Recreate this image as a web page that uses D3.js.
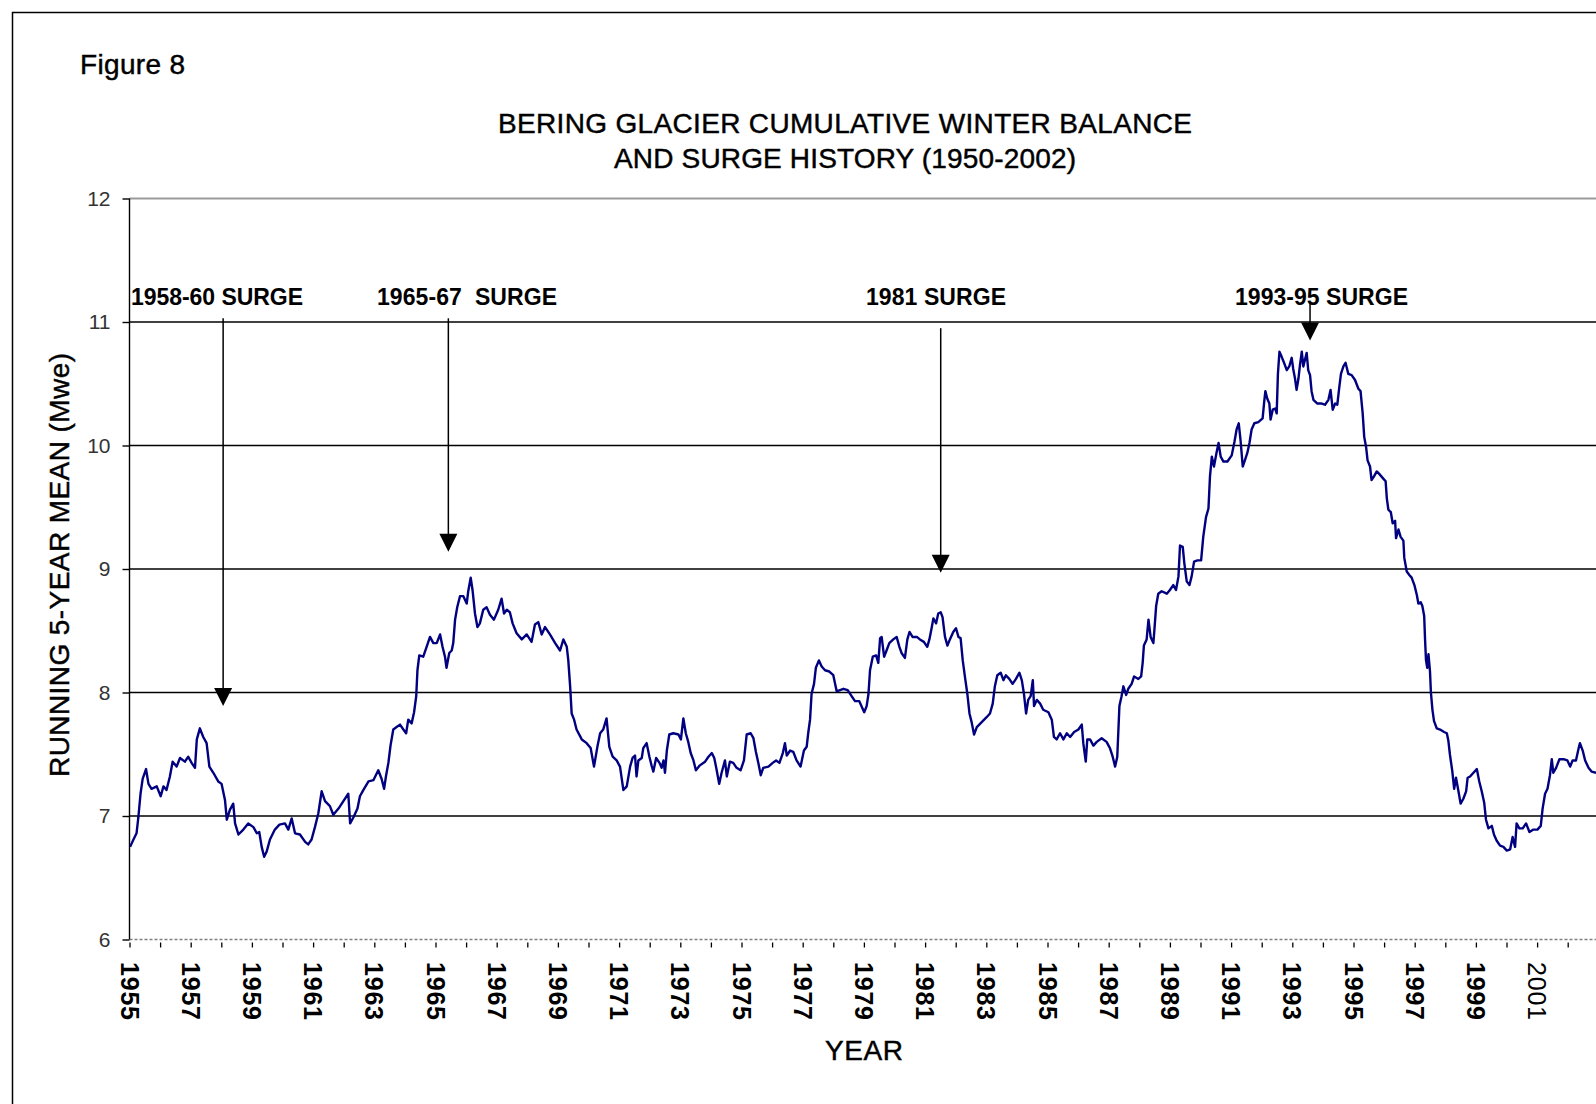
<!DOCTYPE html>
<html>
<head>
<meta charset="utf-8">
<script src="https://cdn.jsdelivr.net/npm/d3@7"></script>
<style>
  html, body { margin: 0; padding: 0; background: #fff; overflow: hidden; }
  svg { display: block; }
  text { font-family: "Liberation Sans", Arial, sans-serif; }
  .heavy { stroke: #000; stroke-width: 0.45px; }
</style>
</head>
<body>
<svg id="chart" width="1596" height="1104"></svg>
<script>
// Running 5-year mean of cumulative winter balance, [decimal year, Mwe]
const runningMean = [
  [1955.02,6.75],[1955.13,6.81],[1955.23,6.86],[1955.29,6.99],[1955.36,7.18],[1955.43,7.30],
  [1955.54,7.38],[1955.62,7.26],[1955.72,7.22],[1955.89,7.24],[1956.02,7.16],[1956.11,7.24],
  [1956.21,7.21],[1956.32,7.32],[1956.41,7.44],[1956.54,7.40],[1956.65,7.47],[1956.81,7.44],
  [1956.92,7.48],[1957.03,7.43],[1957.14,7.39],[1957.20,7.62],[1957.30,7.71],[1957.41,7.64],
  [1957.52,7.59],[1957.61,7.40],[1957.74,7.35],[1957.90,7.28],[1958.01,7.26],[1958.12,7.13],
  [1958.18,6.97],[1958.28,7.05],[1958.39,7.10],[1958.45,6.94],[1958.56,6.85],[1958.72,6.89],
  [1958.88,6.94],[1959.05,6.91],[1959.16,6.86],[1959.24,6.87],[1959.32,6.75],[1959.40,6.67],
  [1959.48,6.71],[1959.59,6.81],[1959.75,6.89],[1959.90,6.93],[1960.08,6.94],[1960.19,6.89],
  [1960.30,6.98],[1960.41,6.86],[1960.57,6.85],[1960.74,6.79],[1960.84,6.77],[1960.95,6.81],
  [1961.06,6.91],[1961.17,7.02],[1961.28,7.20],[1961.39,7.12],[1961.55,7.08],[1961.66,7.01],
  [1961.83,7.06],[1961.99,7.12],[1962.15,7.18],[1962.21,6.94],[1962.32,6.99],[1962.45,7.06],
  [1962.53,7.16],[1962.64,7.21],[1962.81,7.28],[1962.97,7.29],[1963.13,7.37],[1963.24,7.30],
  [1963.32,7.22],[1963.38,7.32],[1963.46,7.43],[1963.53,7.57],[1963.62,7.70],[1963.73,7.72],
  [1963.84,7.74],[1963.95,7.70],[1964.04,7.67],[1964.11,7.78],[1964.22,7.75],[1964.30,7.84],
  [1964.37,7.97],[1964.41,8.18],[1964.47,8.30],[1964.60,8.29],[1964.71,8.37],[1964.82,8.45],
  [1964.93,8.40],[1965.04,8.40],[1965.15,8.47],[1965.23,8.37],[1965.31,8.29],[1965.36,8.20],
  [1965.45,8.32],[1965.53,8.34],[1965.58,8.40],[1965.64,8.59],[1965.71,8.69],[1965.80,8.78],
  [1965.91,8.78],[1966.02,8.72],[1966.07,8.82],[1966.15,8.93],[1966.21,8.83],[1966.29,8.64],
  [1966.37,8.53],[1966.45,8.56],[1966.56,8.67],[1966.67,8.69],[1966.78,8.63],[1966.91,8.59],
  [1967.05,8.67],[1967.16,8.76],[1967.24,8.64],[1967.33,8.67],[1967.43,8.65],[1967.52,8.56],
  [1967.65,8.48],[1967.82,8.43],[1967.98,8.47],[1968.14,8.41],[1968.25,8.55],[1968.36,8.57],
  [1968.47,8.47],[1968.58,8.53],[1968.74,8.47],[1968.91,8.40],[1969.07,8.34],[1969.18,8.43],
  [1969.29,8.37],[1969.34,8.26],[1969.40,8.05],[1969.45,7.83],[1969.53,7.78],[1969.61,7.70],
  [1969.78,7.62],[1969.94,7.59],[1970.07,7.55],[1970.18,7.40],[1970.29,7.56],[1970.38,7.67],
  [1970.48,7.70],[1970.59,7.79],[1970.68,7.56],[1970.79,7.48],[1970.92,7.45],[1971.03,7.40],
  [1971.14,7.21],[1971.25,7.24],[1971.36,7.40],[1971.44,7.47],[1971.52,7.49],[1971.57,7.32],
  [1971.63,7.45],[1971.74,7.47],[1971.79,7.55],[1971.90,7.59],[1971.99,7.48],[1972.06,7.41],
  [1972.12,7.36],[1972.21,7.47],[1972.32,7.43],[1972.39,7.39],[1972.45,7.45],[1972.50,7.35],
  [1972.56,7.53],[1972.64,7.66],[1972.77,7.67],[1972.94,7.66],[1973.02,7.62],[1973.10,7.79],
  [1973.18,7.67],[1973.26,7.60],[1973.34,7.51],[1973.43,7.45],[1973.51,7.37],[1973.64,7.41],
  [1973.81,7.44],[1973.92,7.48],[1974.03,7.51],[1974.11,7.47],[1974.19,7.37],[1974.27,7.26],
  [1974.35,7.35],[1974.46,7.45],[1974.52,7.32],[1974.62,7.44],[1974.73,7.43],[1974.84,7.39],
  [1974.97,7.37],[1975.08,7.45],[1975.17,7.66],[1975.30,7.67],[1975.39,7.63],[1975.47,7.52],
  [1975.55,7.43],[1975.63,7.33],[1975.71,7.39],[1975.88,7.40],[1976.02,7.43],[1976.13,7.45],
  [1976.24,7.43],[1976.35,7.51],[1976.42,7.59],[1976.48,7.49],[1976.59,7.53],[1976.69,7.52],
  [1976.80,7.45],[1976.93,7.40],[1977.04,7.53],[1977.13,7.56],[1977.18,7.67],[1977.24,7.78],
  [1977.29,7.99],[1977.37,8.07],[1977.43,8.20],[1977.53,8.26],[1977.62,8.21],[1977.73,8.18],
  [1977.87,8.17],[1978.00,8.14],[1978.11,8.01],[1978.22,8.02],[1978.33,8.03],[1978.47,8.02],
  [1978.60,7.97],[1978.71,7.93],[1978.85,7.93],[1979.01,7.84],[1979.09,7.89],[1979.15,7.99],
  [1979.20,8.18],[1979.29,8.29],[1979.40,8.30],[1979.47,8.24],[1979.53,8.44],[1979.58,8.45],
  [1979.66,8.29],[1979.74,8.34],[1979.83,8.40],[1979.96,8.43],[1980.07,8.45],[1980.16,8.37],
  [1980.23,8.32],[1980.34,8.28],[1980.42,8.43],[1980.49,8.49],[1980.59,8.45],[1980.73,8.45],
  [1980.83,8.43],[1980.96,8.41],[1981.07,8.37],[1981.14,8.43],[1981.22,8.53],[1981.27,8.60],
  [1981.36,8.56],[1981.43,8.64],[1981.51,8.65],[1981.57,8.61],[1981.65,8.45],[1981.73,8.38],
  [1981.81,8.43],[1981.92,8.49],[1982.01,8.52],[1982.09,8.45],[1982.16,8.44],[1982.23,8.26],
  [1982.30,8.13],[1982.38,7.99],[1982.45,7.83],[1982.52,7.76],[1982.60,7.66],[1982.69,7.72],
  [1982.85,7.76],[1983.01,7.80],[1983.12,7.83],[1983.21,7.91],[1983.28,8.05],[1983.36,8.14],
  [1983.47,8.16],[1983.56,8.10],[1983.64,8.14],[1983.75,8.11],[1983.86,8.07],[1983.97,8.11],
  [1984.08,8.16],[1984.16,8.10],[1984.23,7.99],[1984.30,7.83],[1984.37,7.94],[1984.45,7.97],
  [1984.52,8.10],[1984.56,7.89],[1984.65,7.94],[1984.76,7.91],[1984.86,7.86],[1985.03,7.84],
  [1985.14,7.78],[1985.21,7.64],[1985.30,7.62],[1985.41,7.67],[1985.52,7.62],[1985.63,7.67],
  [1985.74,7.64],[1985.87,7.68],[1986.01,7.70],[1986.12,7.74],[1986.17,7.59],[1986.25,7.44],
  [1986.30,7.62],[1986.39,7.62],[1986.50,7.57],[1986.61,7.60],[1986.77,7.63],[1986.93,7.60],
  [1987.04,7.55],[1987.13,7.48],[1987.21,7.40],[1987.28,7.48],[1987.35,7.89],[1987.42,7.97],
  [1987.48,8.05],[1987.57,7.98],[1987.64,8.03],[1987.75,8.07],[1987.83,8.13],[1987.97,8.11],
  [1988.06,8.13],[1988.11,8.24],[1988.15,8.38],[1988.24,8.43],[1988.30,8.59],[1988.37,8.45],
  [1988.46,8.40],[1988.50,8.53],[1988.55,8.70],[1988.62,8.80],[1988.73,8.82],[1988.90,8.80],
  [1989.00,8.83],[1989.11,8.87],[1989.20,8.83],[1989.28,8.94],[1989.33,9.19],[1989.42,9.18],
  [1989.47,9.05],[1989.55,8.90],[1989.64,8.87],[1989.71,8.94],[1989.79,9.06],[1989.90,9.07],
  [1990.02,9.07],[1990.09,9.26],[1990.18,9.42],[1990.26,9.49],[1990.31,9.75],[1990.37,9.91],
  [1990.44,9.83],[1990.53,9.95],[1990.59,10.02],[1990.66,9.91],[1990.75,9.87],[1990.88,9.87],
  [1991.02,9.92],[1991.11,10.03],[1991.18,10.13],[1991.25,10.18],[1991.31,10.04],[1991.38,9.83],
  [1991.45,9.88],[1991.53,9.94],[1991.60,10.02],[1991.67,10.13],[1991.76,10.18],[1991.89,10.19],
  [1992.03,10.22],[1992.08,10.35],[1992.12,10.44],[1992.18,10.38],[1992.25,10.34],[1992.29,10.21],
  [1992.36,10.29],[1992.44,10.30],[1992.49,10.26],[1992.53,10.58],[1992.58,10.76],[1992.65,10.72],
  [1992.73,10.67],[1992.82,10.61],[1992.90,10.64],[1992.98,10.71],[1993.03,10.62],[1993.09,10.54],
  [1993.14,10.45],[1993.20,10.54],[1993.25,10.65],[1993.31,10.76],[1993.36,10.64],[1993.41,10.69],
  [1993.47,10.75],[1993.52,10.61],[1993.58,10.57],[1993.63,10.44],[1993.69,10.37],[1993.82,10.34],
  [1993.96,10.34],[1994.07,10.33],[1994.18,10.37],[1994.25,10.45],[1994.32,10.29],[1994.40,10.34],
  [1994.47,10.33],[1994.54,10.48],[1994.59,10.58],[1994.67,10.64],[1994.74,10.67],[1994.83,10.58],
  [1994.94,10.57],[1995.05,10.53],[1995.16,10.46],[1995.23,10.44],[1995.30,10.26],[1995.35,10.07],
  [1995.41,9.99],[1995.46,9.88],[1995.54,9.83],[1995.59,9.72],[1995.67,9.75],[1995.76,9.79],
  [1995.84,9.77],[1995.98,9.73],[1996.05,9.71],[1996.09,9.57],[1996.14,9.48],[1996.22,9.46],
  [1996.28,9.37],[1996.36,9.39],[1996.39,9.25],[1996.47,9.32],[1996.54,9.26],[1996.63,9.23],
  [1996.66,9.09],[1996.74,8.98],[1996.83,8.95],[1996.90,8.93],[1996.99,8.87],[1997.07,8.79],
  [1997.12,8.72],[1997.20,8.73],[1997.25,8.70],[1997.31,8.62],[1997.34,8.42],[1997.37,8.26],
  [1997.41,8.20],[1997.45,8.31],[1997.50,8.17],[1997.53,8.00],[1997.58,7.86],[1997.63,7.77],
  [1997.72,7.71],[1997.83,7.70],[1997.96,7.68],[1998.05,7.67],[1998.10,7.61],[1998.15,7.50],
  [1998.23,7.36],[1998.29,7.22],[1998.35,7.31],[1998.43,7.20],[1998.50,7.10],[1998.59,7.14],
  [1998.68,7.20],[1998.73,7.31],[1998.81,7.32],[1998.92,7.35],[1999.03,7.38],[1999.11,7.28],
  [1999.19,7.20],[1999.27,7.11],[1999.33,6.97],[1999.41,6.90],[1999.52,6.92],[1999.59,6.85],
  [1999.68,6.80],[1999.79,6.76],[1999.90,6.75],[2000.01,6.72],[2000.12,6.73],[2000.20,6.83],
  [2000.28,6.75],[2000.33,6.94],[2000.42,6.90],[2000.53,6.90],[2000.64,6.94],[2000.75,6.87],
  [2000.88,6.89],[2001.01,6.89],[2001.12,6.92],[2001.18,7.06],[2001.26,7.18],[2001.34,7.22],
  [2001.42,7.33],[2001.48,7.46],[2001.53,7.35],[2001.62,7.39],[2001.73,7.46],[2001.86,7.46],
  [2001.99,7.45],[2002.08,7.40],[2002.16,7.45],[2002.27,7.45],[2002.35,7.54],[2002.40,7.59],
  [2002.49,7.53],[2002.57,7.45],[2002.68,7.39],[2002.78,7.36],[2002.93,7.35]
];

const valueTicks = [6, 7, 8, 9, 10, 11, 12];
const yearTicks = d3.range(1955, 2003);
const labelledYears = yearTicks.filter(yr => yr % 2 === 1);

const surgeNames = ["1958-60 SURGE", "1965-67  SURGE", "1981 SURGE", "1993-95 SURGE"];
const surgeYears = [1958.06, 1965.42, 1981.51, 1993.58];
const surgeArrowFrom = [11.03, 11.03, 10.95, 11.16];
const surgeArrowTo = [7.89, 9.14, 8.97, 10.85];

const titleLines = ["BERING GLACIER CUMULATIVE WINTER BALANCE", "AND SURGE HISTORY (1950-2002)"];

// ---- layout ----
const chartW = 1596, chartH = 1104;
const plotLeft = 129.5, plotTop = 198.5, plotBottom = 939.5;
const pxPerYear = 30.6;

const x = d3.scaleLinear().domain([1955, 2003]).range([plotLeft, plotLeft + pxPerYear * 48]);
const y = d3.scaleLinear().domain([6, 12]).range([plotBottom, plotTop]);

const svg = d3.select("#chart");
const font = '"Liberation Sans", Arial, sans-serif';

// outer frame of the figure
svg.append("rect")
  .attr("x", 12.5).attr("y", 12.5)
  .attr("width", 1700).attr("height", 1200)
  .attr("fill", "none").attr("stroke", "#000").attr("stroke-width", 1.5);

// caption and title
svg.append("text")
  .attr("class", "heavy")
  .attr("x", 80).attr("y", 74)
  .attr("font-size", 28).attr("textLength", 105).attr("lengthAdjust", "spacing")
  .text("Figure 8");

const titleLengths = [694, 462];
svg.selectAll("text.title").data(titleLines).join("text")
  .attr("class", "title heavy")
  .attr("x", 845).attr("y", (d, i) => 133 + i * 35)
  .attr("text-anchor", "middle")
  .attr("font-size", 28)
  .attr("textLength", (d, i) => titleLengths[i]).attr("lengthAdjust", "spacing")
  .text(d => d);

// horizontal gridlines
const grid = svg.append("g");
grid.selectAll("line").data(valueTicks.filter(v => v > 6 && v < 12)).join("line")
  .attr("x1", plotLeft).attr("x2", chartW + 10)
  .attr("y1", d => y(d)).attr("y2", d => y(d))
  .attr("stroke", "#000").attr("stroke-width", 1.6);
grid.append("line")
  .attr("x1", plotLeft).attr("x2", chartW + 10)
  .attr("y1", y(12)).attr("y2", y(12))
  .attr("stroke", "#9a9a9a").attr("stroke-width", 2);
grid.append("line")
  .attr("x1", plotLeft).attr("x2", chartW + 10)
  .attr("y1", y(6)).attr("y2", y(6))
  .attr("stroke", "#808080").attr("stroke-width", 1.6)
  .attr("stroke-dasharray", "3,2");

// value axis
const yAxis = svg.append("g")
  .attr("transform", `translate(${plotLeft},0)`)
  .call(d3.axisLeft(y).tickValues(valueTicks).tickSize(7).tickPadding(12).tickFormat(d3.format("d")));
yAxis.select(".domain").remove();
yAxis.selectAll(".tick line").attr("stroke", "#000").attr("stroke-width", 1.4);
yAxis.selectAll(".tick text")
  .attr("font-family", font).attr("font-size", 21).attr("fill", "#333");
svg.append("line")
  .attr("x1", plotLeft).attr("x2", plotLeft).attr("y1", plotTop).attr("y2", plotBottom)
  .attr("stroke", "#000").attr("stroke-width", 1.4);

svg.append("text")
  .attr("class", "heavy")
  .attr("transform", `translate(69,565) rotate(-90)`)
  .attr("text-anchor", "middle")
  .attr("font-size", 28).attr("textLength", 424).attr("lengthAdjust", "spacing")
  .text("RUNNING 5-YEAR MEAN (Mwe)");

// year axis
const xAxis = svg.append("g")
  .attr("transform", `translate(0,${plotBottom})`)
  .call(d3.axisBottom(x).tickValues(yearTicks).tickSize(8).tickFormat(() => ""));
xAxis.select(".domain").remove();
xAxis.selectAll(".tick line").attr("y1", 3).attr("stroke", "#000").attr("stroke-width", 1.3);

svg.append("g").selectAll("text").data(labelledYears).join("text")
  .attr("transform", d => `translate(${x(d)},962) rotate(90)`)
  .attr("dominant-baseline", "central")
  .attr("font-size", 25)
  .attr("font-weight", d => d === 2001 ? "normal" : "bold")
  .attr("textLength", 58).attr("lengthAdjust", "spacing")
  .text(d => d);

svg.append("text")
  .attr("class", "heavy")
  .attr("x", 825).attr("y", 1060)
  .attr("font-size", 28).attr("textLength", 78).attr("lengthAdjust", "spacing")
  .text("YEAR");

// winter balance line
svg.append("defs").append("clipPath").attr("id", "plotClip")
  .append("rect").attr("x", plotLeft).attr("y", plotTop - 5)
  .attr("width", chartW - plotLeft).attr("height", plotBottom - plotTop + 5);

svg.append("path")
  .datum(runningMean)
  .attr("clip-path", "url(#plotClip)")
  .attr("fill", "none")
  .attr("stroke", "#000080")
  .attr("stroke-width", 2.4)
  .attr("stroke-linejoin", "round")
  .attr("d", d3.line().x(d => x(d[0])).y(d => y(d[1])));

// surge annotations
const labelLeft = [131, 377, 866, 1235];
const labelLength = [172, 180, 140, 173];
const headSize = 18;
const surges = surgeNames.map((name, i) => ({
  name, year: surgeYears[i], from: surgeArrowFrom[i], to: surgeArrowTo[i],
  lx: labelLeft[i], len: labelLength[i]
}));

const ann = svg.append("g").selectAll("g").data(surges).join("g");
ann.append("line")
  .attr("x1", d => x(d.year)).attr("x2", d => x(d.year))
  .attr("y1", d => y(d.from)).attr("y2", d => y(d.to) - headSize + 2)
  .attr("stroke", "#000").attr("stroke-width", 1.5);
ann.append("path")
  .attr("d", d => {
    const cx = x(d.year), ty = y(d.to);
    return `M${cx - headSize / 2},${ty - headSize}L${cx + headSize / 2},${ty - headSize}L${cx},${ty}Z`;
  })
  .attr("fill", "#000");
ann.append("text")
  .attr("x", d => d.lx).attr("y", 305)
  .attr("font-size", 23).attr("font-weight", "bold")
  .style("white-space", "pre")
  .attr("textLength", d => d.len).attr("lengthAdjust", "spacing")
  .text(d => d.name);
</script>
</body>
</html>
